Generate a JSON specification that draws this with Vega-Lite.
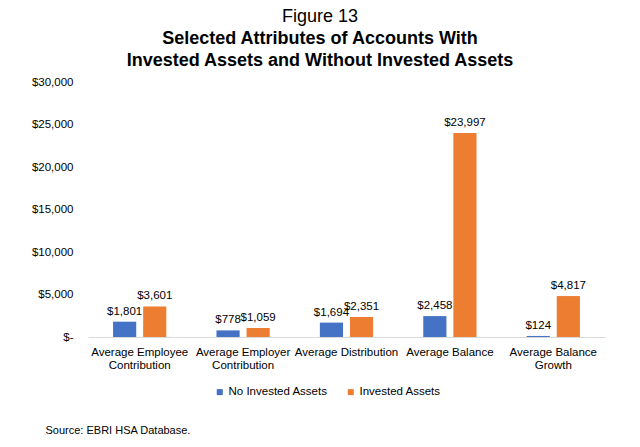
{
  "$schema": "https://vega.github.io/schema/vega-lite/v6.json",
  "autosize": {"type": "none"},
  "width": 517,
  "height": 255,
  "padding": {"left": 88, "top": 82, "right": 35, "bottom": 110},
  "background": "white",
  "config": {
    "view": {"stroke": null},
    "font": "Liberation Sans",
    "text": {"font": "Liberation Sans"}
  },
  "title": {
    "text": "Figure 13",
    "subtitle": ["Selected Attributes of Accounts With", "Invested Assets and Without Invested Assets"],
    "fontSize": 18,
    "fontWeight": "normal",
    "subtitleFontSize": 18,
    "subtitleFontWeight": "bold",
    "subtitleColor": "black",
    "color": "black",
    "subtitleLineHeight": 22,
    "subtitlePadding": 4,
    "anchor": "middle",
    "frame": "group",
    "dx": -26.5,
    "offset": 6,
    "font": "Liberation Sans",
    "subtitleFont": "Liberation Sans"
  },
  "data": {
    "values": [
      {"attribute": "Average Employee|Contribution", "group": "No Invested Assets", "value": 1801},
      {"attribute": "Average Employee|Contribution", "group": "Invested Assets", "value": 3601},
      {"attribute": "Average Employer|Contribution", "group": "No Invested Assets", "value": 778},
      {"attribute": "Average Employer|Contribution", "group": "Invested Assets", "value": 1059},
      {"attribute": "Average Distribution", "group": "No Invested Assets", "value": 1694},
      {"attribute": "Average Distribution", "group": "Invested Assets", "value": 2351},
      {"attribute": "Average Balance", "group": "No Invested Assets", "value": 2458},
      {"attribute": "Average Balance", "group": "Invested Assets", "value": 23997},
      {"attribute": "Average Balance|Growth", "group": "No Invested Assets", "value": 124},
      {"attribute": "Average Balance|Growth", "group": "Invested Assets", "value": 4817}
    ]
  },
  "encoding": {
    "x": {
      "field": "attribute",
      "type": "nominal",
      "sort": null,
      "scale": {"paddingInner": 0.485, "paddingOuter": 0.2425},
      "axis": {
        "labelAngle": 0,
        "labelExpr": "split(datum.label, '|')",
        "labelFontSize": 11.5,
        "labelColor": "black",
        "labelPadding": 9,
        "labelLineHeight": 13,
        "ticks": false,
        "domainColor": "#d9d9d9",
        "domainWidth": 1,
        "title": "Source: EBRI HSA Database.",
        "titleX": -43,
        "titleY": 93,
        "titleAnchor": "start",
        "titleAlign": "left",
        "titleBaseline": "middle",
        "titleFontWeight": "normal",
        "titleFontSize": 11,
        "titleColor": "black"
      }
    },
    "xOffset": {
      "field": "group",
      "type": "nominal",
      "sort": ["No Invested Assets", "Invested Assets"],
      "scale": {"paddingInner": 0.23}
    },
    "y": {
      "field": "value",
      "type": "quantitative",
      "scale": {"domain": [0, 30000]},
      "axis": {
        "values": [0, 5000, 10000, 15000, 20000, 25000, 30000],
        "labelExpr": "datum.value == 0 ? '$-        ' : '$' + format(datum.value, ',')",
        "labelFontSize": 11.5,
        "labelColor": "black",
        "labelPadding": 15,
        "ticks": false,
        "domain": false,
        "grid": false,
        "title": null
      }
    }
  },
  "layer": [
    {
      "mark": {"type": "bar"},
      "encoding": {
        "color": {
          "field": "group",
          "type": "nominal",
          "sort": ["No Invested Assets", "Invested Assets"],
          "scale": {"domain": ["No Invested Assets", "Invested Assets"], "range": ["#4472C4", "#ED7D31"]},
          "legend": {
            "orient": "none",
            "legendX": 126,
            "legendY": 304,
            "direction": "horizontal",
            "title": null,
            "symbolType": "square",
            "symbolSize": 36,
            "symbolStrokeWidth": 0,
            "labelFontSize": 11.5,
            "labelColor": "black",
            "labelOffset": 3,
            "columnPadding": 17
          }
        }
      }
    },
    {
      "mark": {"type": "text", "baseline": "bottom", "dy": -5, "fontSize": 11.5, "color": "black"},
      "encoding": {
        "text": {"field": "value", "type": "quantitative", "format": "$,.0f"}
      }
    }
  ]
}
